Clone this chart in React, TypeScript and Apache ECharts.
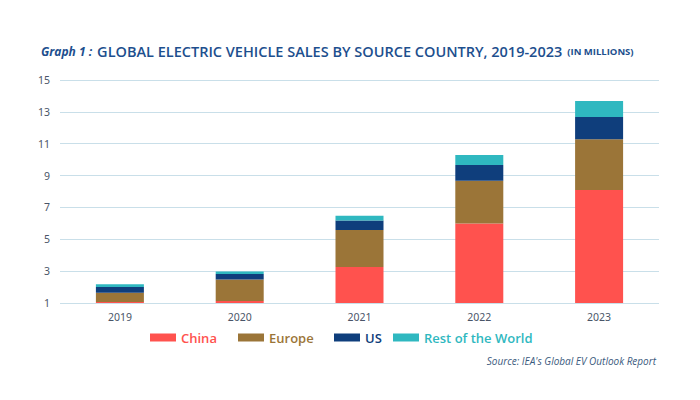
import React, { useEffect, useRef } from "react";
import * as echarts from "echarts";

const years = ["2019", "2020", "2021", "2022", "2023"];
const china = [1.06, 1.12, 3.26, 5.99, 8.09];
const europe = [0.58, 1.35, 2.33, 2.68, 3.19];
const us = [0.36, 0.35, 0.59, 0.99, 1.4];
const restOfWorld = [0.17, 0.15, 0.29, 0.63, 1.0];

const seriesNames = ["China", "Europe", "US", "Rest of the World"];
const seriesColors = ["#FF524E", "#9B7538", "#0F3E7C", "#2FB8C0"];
const legendLefts = [150, 238, 334, 393];

export default function App() {
  const ref = useRef<HTMLDivElement>(null);

  useEffect(() => {
    if (!ref.current) return;
    const chart = echarts.init(ref.current, undefined, { renderer: "svg" });
    const values = [china, europe, us, restOfWorld];

    chart.setOption({
      animation: false,
      backgroundColor: "#ffffff",
      title: {
        left: 36,
        top: 37,
        text: "{a|Graph 1 :} {b|GLOBAL ELECTRIC VEHICLE SALES BY SOURCE COUNTRY, 2019-2023} {c|(IN MILLIONS)}",
        textStyle: {
          rich: {
            a: {
              fontFamily: "Open Sans",
              fontStyle: "italic",
              fontWeight: "bold",
              fontSize: 12,
              color: "#1D4F8E",
            },
            b: {
              fontFamily: "Open Sans",
              fontWeight: 600,
              fontSize: 14.5,
              color: "#1D4F8E",
            },
            c: {
              fontFamily: "Open Sans",
              fontWeight: "bold",
              fontSize: 9.5,
              color: "#1D4F8E",
            },
          },
        },
      },
      legend: seriesNames.map((name, i) => ({
        data: [name],
        left: legendLefts[i],
        top: 331,
        padding: 0,
        itemWidth: 26,
        itemHeight: 8,
        itemGap: 8,
        icon: "rect",
        selectedMode: false,
        textStyle: {
          fontFamily: "Open Sans",
          fontWeight: 600,
          fontSize: 13,
          color: seriesColors[i],
          padding: [0, 0, 0, 0],
        },
      })),
      graphic: [
        {
          type: "text",
          right: 44,
          top: 356,
          style: {
            text: "Source: IEA's Global EV Outlook Report",
            font: "italic 10px 'Open Sans'",
            fill: "#3B5A7E",
          },
        },
      ],
      grid: { left: 60, right: 41, top: 80, bottom: 97 },
      xAxis: {
        type: "category",
        data: years,
        axisLine: { show: false },
        axisTick: { show: false },
        axisLabel: {
          margin: 8,
          fontFamily: "Noto Sans",
          fontSize: 10.5,
          color: "#4A5568",
        },
      },
      yAxis: {
        type: "value",
        min: 1,
        max: 15,
        interval: 2,
        axisLine: { show: false },
        axisTick: { show: false },
        axisLabel: {
          margin: 10,
          fontFamily: "Noto Sans",
          fontSize: 10.5,
          color: "#4A5568",
        },
        splitLine: { lineStyle: { color: "#C9DFE9", width: 1 } },
      },
      series: seriesNames.map((name, i) => ({
        name,
        type: "bar",
        stack: "sales",
        barWidth: 48,
        data: values[i],
        itemStyle: { color: seriesColors[i] },
      })),
    });

    return () => chart.dispose();
  }, []);

  return <div ref={ref} style={{ width: 700, height: 400, margin: -8 }} />;
}
